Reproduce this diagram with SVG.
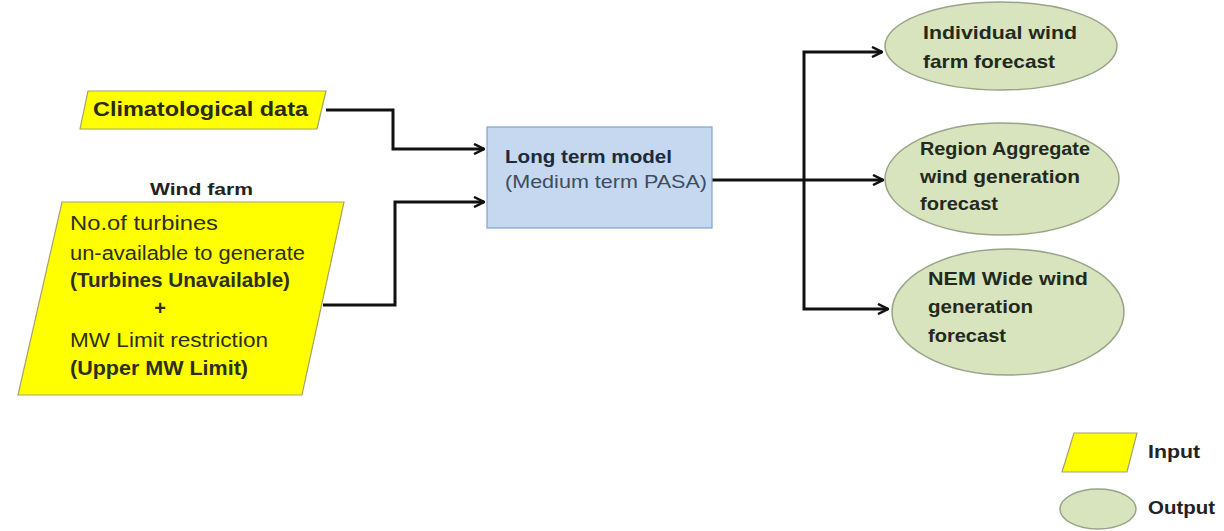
<svg xmlns="http://www.w3.org/2000/svg" width="1224" height="531" viewBox="0 0 1224 531">
<defs>
<style>
text{font-family:"Liberation Sans",Arial,sans-serif;}
.in{fill:#ffff00;stroke:#a8a070;stroke-width:1.2;}
.out{fill:#d7e4bd;stroke:#9aa38a;stroke-width:1.5;}
.box{fill:#c5d8f0;stroke:#7ea3cf;stroke-width:1.2;}
.b{font-weight:bold;}
.t{fill:#2e2e1e;font-size:20px;}
.ot{fill:#23291c;font-size:19px;font-weight:bold;}
.con{fill:none;stroke:#111;stroke-width:3;}
</style>
<marker id="arr" viewBox="0 0 12 12" refX="11" refY="6" markerWidth="12" markerHeight="12" markerUnits="userSpaceOnUse" orient="auto">
<path d="M1,1 L11,6 L1,11" fill="none" stroke="#111" stroke-width="2.5"/>
</marker>
</defs>
<rect width="1224" height="531" fill="#ffffff"/>

<g id="connectors">
<polyline class="con" points="326,110 393,110 393,149 484,149" marker-end="url(#arr)"/>
<polyline class="con" points="323,305 395,305 395,202 484,202" marker-end="url(#arr)"/>
<polyline class="con" points="712,180 883,180" marker-end="url(#arr)"/>
<polyline class="con" points="804,180 804,52 882,52" marker-end="url(#arr)"/>
<polyline class="con" points="804,180 804,309 888,309" marker-end="url(#arr)"/>
</g>

<g id="climatological">
<polygon class="in" points="88,91 326,91 317,129 80,129"/>
<text class="b" x="93" y="116" font-size="20" fill="#2a2a10" textLength="215" lengthAdjust="spacingAndGlyphs">Climatological data</text>
</g>

<g id="windfarm">
<text class="b" x="150" y="195" font-size="17" fill="#222" textLength="103" lengthAdjust="spacingAndGlyphs">Wind farm</text>
<polygon class="in" points="62,202 344,202 302,395 18,395"/>
<text class="t" x="70" y="230" textLength="148" lengthAdjust="spacingAndGlyphs">No.of turbines</text>
<text class="t" x="70" y="260" textLength="235" lengthAdjust="spacingAndGlyphs">un-available to generate</text>
<text class="t b" x="70" y="287" textLength="220" lengthAdjust="spacingAndGlyphs">(Turbines Unavailable)</text>
<text class="t b" x="160" y="315" text-anchor="middle">+</text>
<text class="t" x="70" y="347" textLength="198" lengthAdjust="spacingAndGlyphs">MW Limit restriction</text>
<text class="t b" x="70" y="375" textLength="178" lengthAdjust="spacingAndGlyphs">(Upper MW Limit)</text>
</g>

<g id="model">
<rect class="box" x="487" y="127" width="225" height="101"/>
<text class="b" x="505" y="163" font-size="18" fill="#1c2a3a" textLength="167" lengthAdjust="spacingAndGlyphs">Long term model</text>
<text x="505" y="188" font-size="18" fill="#3d4c5e" textLength="202" lengthAdjust="spacingAndGlyphs">(Medium term PASA)</text>
</g>

<g id="individual">
<ellipse class="out" cx="1001" cy="46" rx="116" ry="44"/>
<text class="ot" x="923" y="39" textLength="154" lengthAdjust="spacingAndGlyphs">Individual wind</text>
<text class="ot" x="923" y="68" textLength="132" lengthAdjust="spacingAndGlyphs">farm forecast</text>
</g>

<g id="region">
<ellipse class="out" cx="1002" cy="179" rx="117" ry="56"/>
<text class="ot" x="920" y="155" textLength="170" lengthAdjust="spacingAndGlyphs">Region Aggregate</text>
<text class="ot" x="920" y="183" textLength="160" lengthAdjust="spacingAndGlyphs">wind generation</text>
<text class="ot" x="920" y="210" textLength="78" lengthAdjust="spacingAndGlyphs">forecast</text>
</g>

<g id="nem">
<ellipse class="out" cx="1008" cy="312" rx="116" ry="63"/>
<text class="ot" x="928" y="285" textLength="160" lengthAdjust="spacingAndGlyphs">NEM Wide wind</text>
<text class="ot" x="928" y="313" textLength="105" lengthAdjust="spacingAndGlyphs">generation</text>
<text class="ot" x="928" y="342" textLength="78" lengthAdjust="spacingAndGlyphs">forecast</text>
</g>

<g id="legend-input">
<polygon class="in" points="1074,433 1137,433 1127,472 1062,472"/>
<text class="b" x="1148" y="458" font-size="18" fill="#222" textLength="52" lengthAdjust="spacingAndGlyphs">Input</text>
</g>
<g id="legend-output">
<ellipse class="out" cx="1098" cy="509" rx="38" ry="20"/>
<text class="b" x="1148" y="514" font-size="18" fill="#222" textLength="67" lengthAdjust="spacingAndGlyphs">Output</text>
</g>
</svg>
